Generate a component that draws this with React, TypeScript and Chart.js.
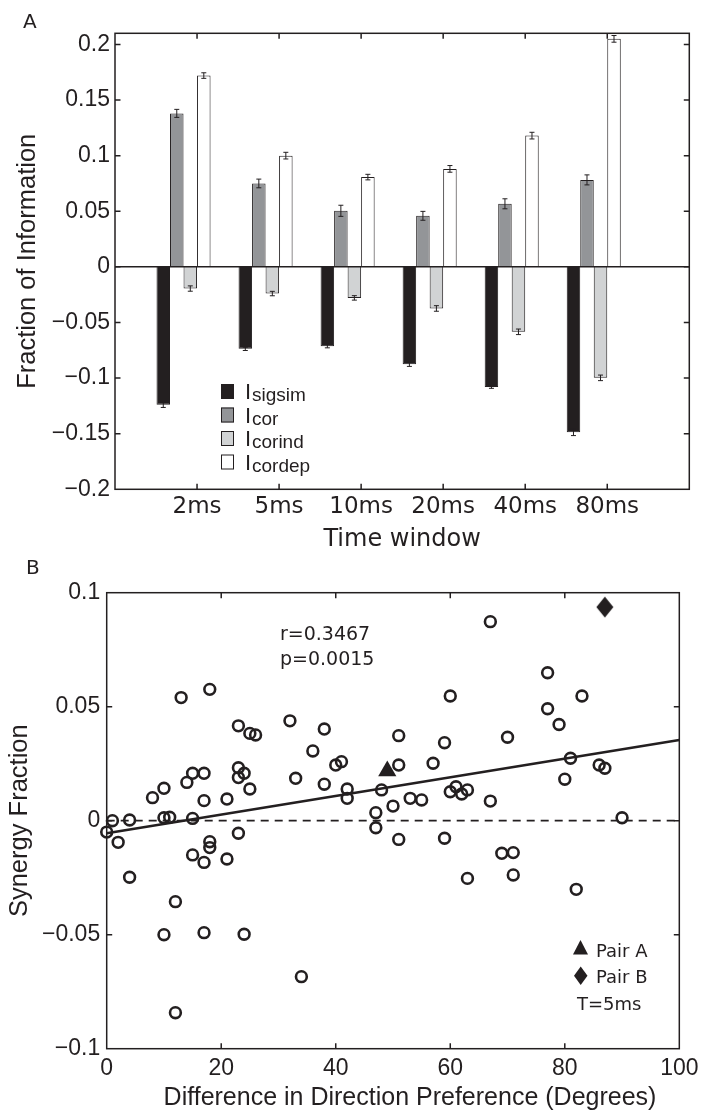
import React, { useEffect, useRef } from 'react';
import { Chart, registerables } from 'chart.js';

Chart.register(...registerables);

const INK = '#231f20';

// ---------- Panel A data ----------
const timeWindows = ['2ms', '5ms', '10ms', '20ms', '40ms', '80ms'];
const seriesNames = ['sigsim', 'cor', 'corind', 'cordep'];
const iSigsim = [-0.124, -0.0737, -0.0713, -0.0875, -0.108, -0.1487];
const iSigsimErr = [0.0024, 0.0015, 0.0015, 0.002, 0.0012, 0.003];
const iCor = [0.138, 0.075, 0.0504, 0.0459, 0.0567, 0.0782];
const iCorErr = [0.0036, 0.0039, 0.005, 0.004, 0.0045, 0.0045];
const iCorind = [-0.0195, -0.024, -0.0279, -0.0374, -0.0584, -0.0998];
const iCorindErr = [0.0024, 0.002, 0.002, 0.0025, 0.0025, 0.0025];
const iCordep = [0.172, 0.1, 0.0807, 0.0881, 0.118, 0.205];
const iCordepErr = [0.0025, 0.003, 0.0025, 0.003, 0.003, 0.003];
const spacerSeries = [0, 0, 0, 0, 0, 0];
const barColors = ['#231f20', '#939598', '#d1d3d4', '#ffffff'];

// ---------- Panel B data ----------
const diffDeg = [
  13, 18, 23, 25, 26, 32, 38, 67, 77, 60, 83, 77, 79, 51, 36, 40, 41, 33, 38, 42,
  42, 23, 24, 23, 25, 15, 17, 14, 10, 8, 17, 21, 10, 11, 15, 1, 4, 0, 2, 4,
  18, 18, 15, 17, 21, 23, 12, 10, 17, 24, 34, 12, 59, 70, 51, 57, 48, 81, 86, 87,
  80, 50, 53, 55, 60, 61, 62, 63, 67, 47, 47, 51, 59, 90, 69, 71, 71, 63, 82,
];
const synergy = [
  0.054, 0.0576, 0.0416, 0.0383, 0.0376, 0.0438, 0.0402, 0.0873, 0.0649, 0.0547,
  0.0547, 0.0491, 0.0422, 0.0373, 0.0306, 0.0244, 0.0259, 0.0186, 0.016, 0.0139,
  0.0098, 0.0232, 0.0208, 0.0189, 0.0139, 0.0208, 0.0208, 0.0168, 0.0142, 0.0101,
  0.0088, 0.0095, 0.0013, 0.0015, 0.001, 0.0, 0.0003, -0.005, -0.0095, -0.0248,
  -0.0092, -0.0118, -0.015, -0.0183, -0.0168, -0.0055, -0.0355, -0.05, -0.0491, -0.0498,
  -0.0684, -0.0842, 0.0342, 0.0366, 0.0244, 0.0252, 0.0135, 0.0274, 0.0244, 0.023,
  0.0182, 0.0064, 0.0098, 0.0091, 0.0127, 0.0149, 0.0117, 0.0135, 0.0086, 0.0035,
  -0.0031, -0.0082, -0.0077, 0.0013, -0.0143, -0.014, -0.0238, -0.0253, -0.0301,
];
const pairA = { x: 49, y: 0.0218 };
const pairB = { x: 87, y: 0.0937 };
const fitX = [0, 100];
const fitY = [-0.0055, 0.0354];
const statsText = ['r=0.3467', 'p=0.0015'];

function fmtTick(v: number) {
  const r = Math.round(v * 1000) / 1000;
  if (r === 0) return '0';
  return (r < 0 ? '\u2212' : '') + String(Math.abs(r));
}

function framePlugin(id: string) {
  return {
    id,
    afterDraw(chart: any) {
      const { ctx, chartArea: a } = chart;
      const xs = chart.scales.x;
      const ys = chart.scales.y;
      const L = 5.5;
      ctx.save();
      ctx.strokeStyle = INK;
      ctx.lineWidth = 1.5;
      ctx.strokeRect(a.left, a.top, a.right - a.left, a.bottom - a.top);
      ctx.beginPath();
      xs.ticks.forEach((t: any) => {
        const p = xs.getPixelForValue(t.value);
        if (p <= a.left + 1 || p >= a.right - 1) return;
        ctx.moveTo(p, a.bottom);
        ctx.lineTo(p, a.bottom - L);
        ctx.moveTo(p, a.top);
        ctx.lineTo(p, a.top + L);
      });
      ys.ticks.forEach((t: any) => {
        const p = ys.getPixelForValue(t.value);
        if (p <= a.top + 1 || p >= a.bottom - 1) return;
        ctx.moveTo(a.left, p);
        ctx.lineTo(a.left + L, p);
        ctx.moveTo(a.right, p);
        ctx.lineTo(a.right - L, p);
      });
      ctx.stroke();
      ctx.restore();
    },
  };
}

const errorSets = [iSigsimErr, iCorErr, iCorindErr, iCordepErr];

const errorBarPlugin = {
  id: 'errorBars',
  afterDatasetsDraw(chart: any) {
    const { ctx } = chart;
    const ys = chart.scales.y;
    ctx.save();
    ctx.strokeStyle = INK;
    ctx.lineWidth = 1;
    errorSets.forEach((errs, di) => {
      const meta = chart.getDatasetMeta(di);
      const vals = chart.data.datasets[di].data;
      meta.data.forEach((bar: any, i: number) => {
        const v = vals[i].y;
        const e = errs[i];
        const y1 = ys.getPixelForValue(v + e);
        const y2 = ys.getPixelForValue(v - e);
        const x = bar.x;
        ctx.beginPath();
        ctx.moveTo(x, y1);
        ctx.lineTo(x, y2);
        ctx.moveTo(x - 2.5, y1);
        ctx.lineTo(x + 2.5, y1);
        ctx.moveTo(x - 2.5, y2);
        ctx.lineTo(x + 2.5, y2);
        ctx.stroke();
      });
    });
    ctx.restore();
  },
};

const overlayA = {
  id: 'overlayA',
  afterDraw(chart: any) {
    const { ctx } = chart;
    ctx.save();
    ctx.fillStyle = INK;
    ctx.textBaseline = 'alphabetic';
    ctx.textAlign = 'left';
    ctx.font = '20px "DejaVu Sans"';
    ctx.fillText('A', 23, 28);
    const rows = [391.5, 415, 438.5, 462];
    seriesNames.forEach((name, k) => {
      const c = rows[k];
      ctx.fillStyle = barColors[k];
      ctx.fillRect(221, c - 7.5, 13, 15);
      ctx.strokeStyle = INK;
      ctx.lineWidth = 1;
      ctx.strokeRect(221.5, c - 7, 12, 14);
      ctx.fillStyle = INK;
      ctx.font = '22px "Liberation Sans"';
      ctx.fillText('I', 245, c + 7.5);
      ctx.font = '19px "Liberation Sans"';
      ctx.fillText(name, 252, c + 9.5);
    });
    ctx.restore();
  },
};

const overlayB = {
  id: 'overlayB',
  afterDraw(chart: any) {
    const { ctx } = chart;
    ctx.save();
    ctx.fillStyle = INK;
    ctx.textAlign = 'left';
    ctx.textBaseline = 'alphabetic';
    ctx.font = '20px "DejaVu Sans"';
    ctx.fillText('B', 26, 573.5);
    ctx.font = '19px "DejaVu Sans"';
    ctx.fillText(statsText[0], 280, 639.5);
    ctx.fillText(statsText[1], 280, 664.5);
    // legend
    ctx.beginPath();
    ctx.moveTo(580.5, 940);
    ctx.lineTo(588, 954.5);
    ctx.lineTo(573, 954.5);
    ctx.closePath();
    ctx.fill();
    ctx.beginPath();
    ctx.moveTo(580.7, 966.5);
    ctx.lineTo(587.5, 975.8);
    ctx.lineTo(580.7, 985);
    ctx.lineTo(574, 975.8);
    ctx.closePath();
    ctx.fill();
    ctx.font = '18px "DejaVu Sans"';
    ctx.fillText('Pair A', 596, 956.5);
    ctx.fillText('Pair B', 596, 983);
    ctx.fillText('T=5ms', 577, 1010);
    ctx.font = '25px "Liberation Sans"';
    ctx.textAlign = 'center';
    ctx.fillText('Difference in Direction Preference (Degrees)', 410, 1105);
    ctx.restore();
  },
};

export default function App() {
  const refA = useRef<HTMLCanvasElement | null>(null);
  const refB = useRef<HTMLCanvasElement | null>(null);

  useEffect(() => {
    if (!refA.current || !refB.current) return;

    const barDatasets: any[] = [iSigsim, iCor, iCorind, iCordep].map((vals, k) => ({
      type: 'bar',
      label: 'I_' + seriesNames[k],
      data: vals.map((v, i) => ({ x: i + 1, y: v })),
      backgroundColor: barColors[k],
      borderColor: INK,
      borderWidth: 1,
    }));
    const spacers: any[] = [spacerSeries, spacerSeries].map((vals) => ({
      type: 'bar',
      label: '',
      data: vals.map((v, i) => ({ x: i + 1, y: v })),
      backgroundColor: '#939598',
      borderColor: '#939598',
      borderWidth: 0,
    }));

    const chartA = new Chart(refA.current, {
      type: 'bar',
      data: {
        datasets: [
          ...barDatasets,
          ...spacers,
          {
            type: 'line',
            label: 'zero',
            data: [{ x: 0, y: 0 }, { x: 7, y: 0 }],
            borderColor: INK,
            borderWidth: 1.5,
            pointRadius: 0,
            order: -1,
          } as any,
        ],
      },
      options: {
        animation: false,
        responsive: false,
        events: [],
        categoryPercentage: 0.988,
        barPercentage: 1,
        layout: { padding: { left: 0, top: 33.3, right: 15.7, bottom: 553.7 } },
        plugins: { legend: { display: false }, tooltip: { enabled: false } },
        scales: {
          x: {
            type: 'linear',
            min: 0,
            max: 7,
            offset: false,
            grid: { display: false, drawTicks: false },
            border: { display: false },
            ticks: {
              stepSize: 1,
              autoSkip: false,
              maxRotation: 0,
              padding: 3.9,
              color: INK,
              font: { family: 'DejaVu Sans', size: 23 },
              callback: (v: any) => (Number.isInteger(v) && v >= 1 && v <= 6 ? timeWindows[v - 1] : ''),
            },
            title: {
              display: true,
              text: 'Time window',
              color: INK,
              font: { family: 'DejaVu Sans', size: 24 },
              padding: { top: 0, bottom: 5.3 },
            },
            afterFit: (s: any) => {
              s.height = 70;
            },
          },
          y: {
            type: 'linear',
            min: -0.2,
            max: 0.21,
            grid: { display: false, drawTicks: false },
            border: { display: false },
            ticks: {
              stepSize: 0.05,
              includeBounds: false,
              padding: 5,
              color: INK,
              font: { family: 'Liberation Sans', size: 23 },
              callback: (v: any) => fmtTick(v),
            },
            title: {
              display: true,
              text: 'Fraction of Information',
              color: INK,
              font: { family: 'Liberation Sans', size: 25.5 },
              padding: { top: 12.2, bottom: 0 },
            },
            afterFit: (s: any) => {
              s.width = 115;
            },
          },
        },
      } as any,
      plugins: [errorBarPlugin, framePlugin('frameA'), overlayA],
    });

    const diamond = document.createElement('canvas');
    diamond.width = 18;
    diamond.height = 22;
    const g = diamond.getContext('2d');
    if (g) {
      g.fillStyle = INK;
      g.beginPath();
      g.moveTo(9, 0.5);
      g.lineTo(17.5, 11);
      g.lineTo(9, 21.5);
      g.lineTo(0.5, 11);
      g.closePath();
      g.fill();
    }

    const chartB = new Chart(refB.current, {
      type: 'scatter',
      data: {
        datasets: [
          {
            label: 'pairs',
            data: diffDeg.map((x, i) => ({ x, y: synergy[i] })),
            pointStyle: 'circle',
            pointRadius: 5.4,
            borderWidth: 2.6,
            borderColor: INK,
            backgroundColor: 'rgba(0,0,0,0)',
            clip: false,
          },
          {
            label: 'Pair A',
            data: [pairA],
            pointStyle: 'triangle',
            pointRadius: 10.5,
            borderWidth: 0,
            borderColor: INK,
            backgroundColor: INK,
            clip: false,
          },
          {
            label: 'Pair B',
            data: [pairB],
            pointStyle: diamond,
            pointRadius: 9,
            borderWidth: 0,
            clip: false,
          },
          {
            label: 'fit',
            data: fitX.map((x, i) => ({ x, y: fitY[i] })),
            showLine: true,
            pointRadius: 0,
            borderColor: INK,
            borderWidth: 2.7,
          },
          {
            label: 'zero',
            data: [{ x: 0, y: 0 }, { x: 100, y: 0 }],
            showLine: true,
            pointRadius: 0,
            borderColor: INK,
            borderWidth: 1.8,
            borderDash: [8, 6],
          },
        ] as any,
      },
      options: {
        animation: false,
        responsive: false,
        events: [],
        layout: { padding: { left: 0, top: 592.7, right: 24, bottom: 0 } },
        plugins: { legend: { display: false }, tooltip: { enabled: false } },
        scales: {
          x: {
            type: 'linear',
            min: 0,
            max: 100,
            grid: { display: false, drawTicks: false },
            border: { display: false },
            ticks: {
              stepSize: 20,
              autoSkip: false,
              maxRotation: 0,
              padding: 6.5,
              color: INK,
              font: { family: 'Liberation Sans', size: 23 },
            },
            title: { display: false },
            afterFit: (s: any) => {
              s.height = 64.3;
            },
          },
          y: {
            type: 'linear',
            min: -0.1,
            max: 0.1,
            grid: { display: false, drawTicks: false },
            border: { display: false },
            ticks: {
              stepSize: 0.05,
              padding: 6.5,
              color: INK,
              font: { family: 'Liberation Sans', size: 23 },
              callback: (v: any) => fmtTick(v),
            },
            title: {
              display: true,
              text: 'Synergy Fraction',
              color: INK,
              font: { family: 'Liberation Sans', size: 25.5 },
              padding: { top: 4.7, bottom: 0 },
            },
            afterFit: (s: any) => {
              s.width = 106.7;
            },
          },
        },
      } as any,
      plugins: [framePlugin('frameB'), overlayB],
    });

    return () => {
      chartA.destroy();
      chartB.destroy();
    };
  }, []);

  return (
    <div style={{ position: 'absolute', left: 0, top: 0, width: 705, height: 1113, background: '#ffffff' }}>
      <canvas ref={refA} width={705} height={1113} style={{ position: 'absolute', left: 0, top: 0 }} />
      <canvas ref={refB} width={705} height={1113} style={{ position: 'absolute', left: 0, top: 0 }} />
    </div>
  );
}
